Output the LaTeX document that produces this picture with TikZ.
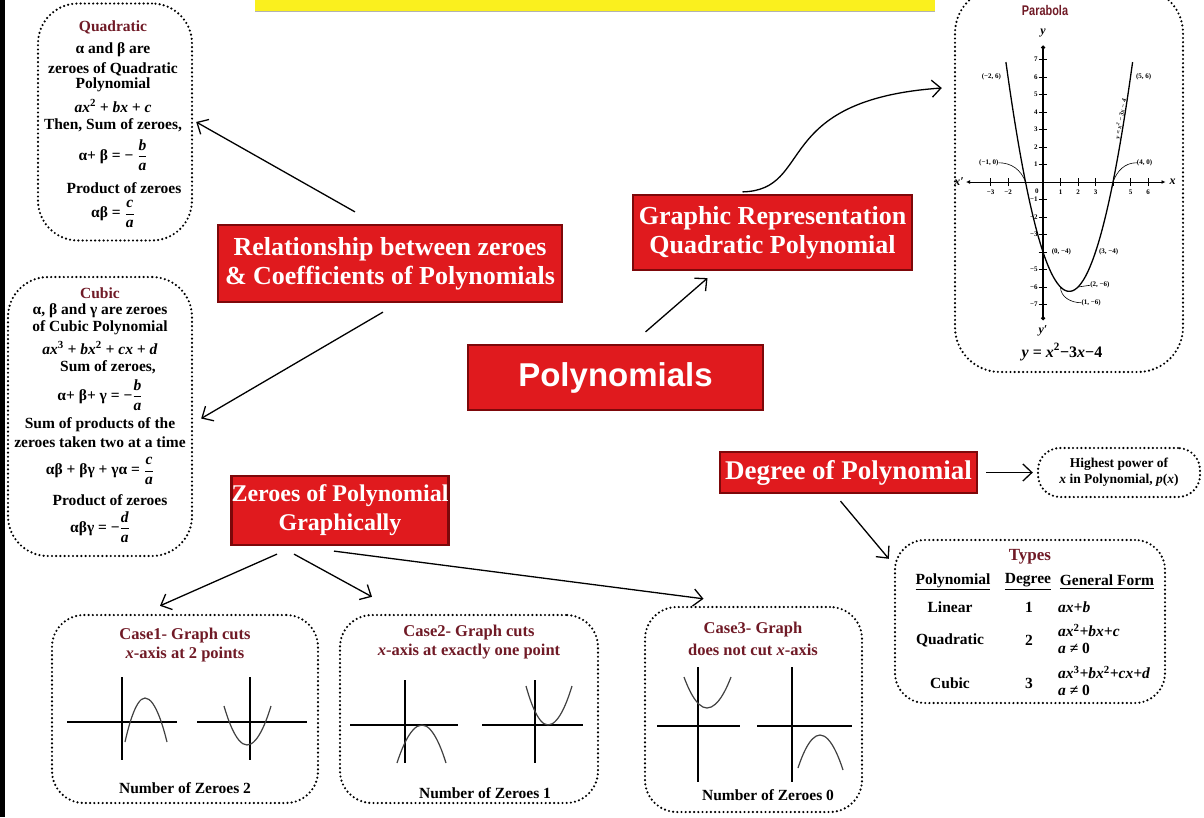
\documentclass[tikz,border=0pt]{standalone}
\usepackage{amsmath}
\usepackage{fontspec}
\setmainfont{Liberation Serif}
\newfontfamily\polyfont{Liberation Sans}
\newfontfamily\narrowfont[FakeStretch=0.78]{Liberation Sans}
\usetikzlibrary{arrows.meta,calc}
\definecolor{boxred}{RGB}{224,26,30}
\definecolor{boxdark}{RGB}{125,8,10}
\definecolor{maroon}{RGB}{112,26,38}
\definecolor{titleyellow}{RGB}{250,240,30}
\tikzset{
  redbox/.style={draw=boxdark, line width=2.2pt, fill=boxred, text=white, align=center, inner sep=0pt,
    font=\bfseries\fontsize{26}{29}\selectfont},
  dotbox/.style={draw=black, line width=2.4pt, dash pattern=on 0pt off 4.2pt, line cap=round, inner sep=0pt},
  arr/.style={draw=black, line width=1.3pt, -{Straight Barb[length=9pt,width=17pt,line width=1.3pt]}},
  txt/.style={inner sep=0pt, font=\bfseries\fontsize{15.5}{17}\selectfont},
  ttl/.style={txt, text=maroon},
  axis/.style={draw=black, line width=1.3pt},
  curve/.style={draw=black!75, line width=1.2pt},
  plab/.style={inner sep=0pt, font=\bfseries\fontsize{7}{8}\selectfont},
  alab/.style={inner sep=0pt, font=\bfseries\itshape\fontsize{12}{13}\selectfont},
}
\begin{document}
\begin{tikzpicture}[x=1pt,y=-1pt]
\useasboundingbox (0,0) rectangle (1204,817);
\fill[white] (0,0) rectangle (1204,817);
\fill[black] (0,0) rectangle (5,817);
\fill[titleyellow] (255,-2) rectangle (935,11);
\draw[black!30, line width=0.8pt] (255,11) -- (935,11);

% ---------- Quadratic box ----------
\node[dotbox, rounded corners=40pt, minimum width=154pt, minimum height=237pt] (quad) at (115,122) {};
\node[ttl] (q1) at (113,27) {Quadratic};
\node[txt] (q2) at (113,50) {α and β are};
\node[txt] (q3) at (113,69) {zeroes of Quadratic};
\node[txt] (q4) at (113,85) {Polynomial};
\node[txt] (q5) at (113,106) {\textit{ax}\textsuperscript{2}\textit{ + bx + c}};
\node[txt] (q6) at (113,125) {Then, Sum of zeroes,};
\node[txt] (q7) at (113,155) {α+ β = − $\dfrac{\textit{b}}{\textit{a}}$};
\node[txt] (q8) at (124,188) {Product of zeroes};
\node[txt] (q9) at (113,214) {αβ = $\dfrac{\textit{c}}{\textit{a}}$};

% ---------- Cubic box ----------
\node[dotbox, rounded corners=40pt, minimum width=184pt, minimum height=279pt] (cubic) at (100,416.5) {};
\node[ttl] (c1) at (100,293) {Cubic};
\node[txt] (c2) at (100,311) {α, β and γ are zeroes};
\node[txt] (c3) at (100,328) {of Cubic Polynomial};
\node[txt] (c4) at (100,348) {\textit{ax}\textsuperscript{3}\textit{ + bx}\textsuperscript{2}\textit{ + cx + d}};
\node[txt] (c5) at (108,367) {Sum of zeroes,};
\node[txt] (c6) at (100,395) {α+ β+ γ = −$\dfrac{\textit{b}}{\textit{a}}$};
\node[txt] (c7) at (100,425) {Sum of products of the};
\node[txt] (c8) at (100,442) {zeroes taken two at a time};
\node[txt] (c9) at (100,471) {αβ + βγ + γα = $\dfrac{\textit{c}}{\textit{a}}$};
\node[txt] (c10) at (110,500) {Product of zeroes};
\node[txt] (c11) at (100,527) {αβγ = −$\dfrac{\textit{d}}{\textit{a}}$};

% ---------- Red boxes ----------
\node[redbox, minimum width=344pt, minimum height=77pt] (rel) at (390,263.5)
  {Relationship between zeroes\\\& Coefficients of Polynomials};
\node[redbox, minimum width=279pt, minimum height=75pt] (graphic) at (772.5,232.5)
  {Graphic Representation\\Quadratic Polynomial};
\node[redbox, minimum width=295pt, minimum height=65pt, font=\polyfont\bfseries\fontsize{33}{36}\selectfont] (poly) at (615.5,377.5)
  {Polynomials};
\node[redbox, minimum width=206pt, minimum height=69pt, font=\bfseries\fontsize{24}{29}\selectfont] (zero) at (340,510.5)
  {Zeroes of Polynomial\\Graphically};
\node[redbox, minimum width=257pt, minimum height=41pt, font=\bfseries\fontsize{27}{29}\selectfont] (degree) at (848.5,472.5)
  {Degree of Polynomial};

% ---------- Highest power ----------
\node[dotbox, rounded corners=22pt, minimum width=162pt, minimum height=49pt, align=center,
  font=\bfseries\fontsize{13.5}{16}\selectfont] (high) at (1119,472.5)
  {Highest power of\\\textit{x} in Polynomial, \textit{p}(\textit{x})};

% ---------- Types ----------
\node[dotbox, rounded corners=30pt, minimum width=270pt, minimum height=163pt] (types) at (1030,621.5) {};
\node[ttl, font=\bfseries\fontsize{17}{19}\selectfont] (tT) at (1030,557) {Types};
\node[txt] (tH1) at (953,582) {\underline{Polynomial}};
\node[txt] (tH2) at (1028,582) {\underline{Degree}};
\node[txt] (tH3) at (1107,582) {\underline{General Form}};
\node[txt] (tL1) at (950,607) {Linear};
\node[txt] (tL2) at (1029,607) {1};
\node[txt, anchor=west] (tL3) at (1058,607) {\textit{ax+b}};
\node[txt] (tQ1) at (950,640) {Quadratic};
\node[txt] (tQ2) at (1029,640) {2};
\node[txt, anchor=west, align=left] (tQ3) at (1058,639) {\textit{ax}\textsuperscript{2}\textit{+bx+c}\\\textit{a} ≠ 0};
\node[txt] (tC1) at (950,683) {Cubic};
\node[txt] (tC2) at (1029,683) {3};
\node[txt, anchor=west, align=left] (tC3) at (1058,681) {\textit{ax}\textsuperscript{3}\textit{+bx}\textsuperscript{2}\textit{+cx+d}\\\textit{a} ≠ 0};

% ---------- Parabola ----------
\node[dotbox, rounded corners=45pt, minimum width=228pt, minimum height=384pt] (para) at (1069,180) {};
\node[inner sep=0pt, text=maroon, font=\narrowfont\bfseries\fontsize{14}{16}\selectfont] (pt) at (1045,10) {Parabola};
\node[txt, font=\bfseries\fontsize{16}{18}\selectfont] (pf) at (1062,352)
  {\textit{y} = \textit{x}\textsuperscript{2}−3\textit{x}−4};
\begin{scope}[shift={(1043,182)}, x=17.5pt, y=17.5pt]
  \draw[line width=1pt, {Latex[length=4pt,width=4pt]}-{Latex[length=4pt,width=4pt]}] (-4.4,0) -- (7.0,0);
  \draw[line width=1.2pt, {Circle[length=4pt]}-{Circle[length=4pt]}] (0,-7.9) -- (0,7.8);
  \foreach \i in {-3,-2,1,2,3,4,5,6} \draw[line width=1pt] (\i,-0.22) -- (\i,0.22);
  \foreach \j in {-7,-6,-5,-4,-3,-2,-1,1,2,3,4,5,6,7} \draw[line width=1pt] (-0.25,\j) -- (0.25,\j);
  \foreach \i/\l/\n in {-3/−3/a,-2/−2/b,1/1/c,2/2/d,3/3/e,5/5/f,6/6/g}
    \node[plab] (xt\n) at (\i,-0.6) {\l};
  \foreach \j/\l/\n in {7/7/a,6/6/b,5/5/c,4/4/d,3/3/e,2/2/f,1/1/g,-1/−1/h,-2/−2/i,-3/−3/j,-5/−5/k,-6/−6/l,-7/−7/m}
    \node[plab, anchor=east] (yt\n) at (-0.3,\j) {\l};
  \draw[line width=1.3pt, smooth, samples=60, domain=-2.12:5.12] plot (\x,{(\x)^2-3*(\x)-4});
  \node[plab] (pA) at (-2.95,6) {(−2, 6)};
  \node[plab] (pB) at (5.75,6) {(5, 6)};
  \node[plab] (pC) at (-3.1,1.1) {(−1, 0)};
  \node[plab] (pD) at (5.8,1.1) {(4, 0)};
  \node[plab] (pE) at (1.05,-4) {(0, −4)};
  \node[plab] (pF) at (3.75,-4) {(3, −4)};
  \node[plab] (pG) at (3.25,-5.9) {(2, −6)};
  \node[plab] (pH) at (2.75,-6.9) {(1, −6)};
  \node[plab] (p0) at (-0.35,-0.5) {0};
  \coordinate (zA) at (-1,0);
  \coordinate (zB) at (4,0);
  \coordinate (zG) at (2,-6);
  \coordinate (zH) at (1,-6);
  \draw[line width=0.6pt] (pC.east) to[out=0,in=110] (zA);
  \draw[line width=0.6pt] (pD.west) to[out=180,in=70] (zB);
  \draw[line width=0.6pt] (zG) -- (pG.west);
  \draw[line width=0.6pt] (zH) to[out=-90,in=180] (pH.west);
  \node[alab] (px1) at (-4.8,0) {x′};
  \node[alab] (px2) at (7.4,0) {x};
  \node[alab] (py1) at (0,8.5) {y};
  \node[alab] (py2) at (0,-8.5) {y′};
  \node[plab, rotate=80, font=\bfseries\itshape\fontsize{6.5}{7}\selectfont] (pl) at (4.45,3.6) {y = x\textsuperscript{2} − 3x − 4};
\end{scope}

% ---------- Case boxes ----------
\node[dotbox, rounded corners=32pt, minimum width=266pt, minimum height=188pt] (case1) at (185,709) {};
\node[ttl, font=\bfseries\fontsize{16.5}{18}\selectfont] (k1a) at (185,636) {Case1- Graph cuts};
\node[ttl, font=\bfseries\fontsize{16.5}{18}\selectfont] (k1b) at (185,655) {\textit{x}-axis at 2 points};
\node[txt] (k1c) at (185,788) {Number of Zeroes 2};
\draw[axis] (67,722) -- (177,722);
\draw[axis] (122,677) -- (122,760);
\draw[curve] (125,742) parabola bend (145,698) (167,742);
\draw[axis] (197,722) -- (307,722);
\draw[axis] (250,677) -- (250,760);
\draw[curve] (224,706) parabola bend (247,745) (271,706);

\node[dotbox, rounded corners=32pt, minimum width=258pt, minimum height=188pt] (case2) at (469,709) {};
\node[ttl, font=\bfseries\fontsize{16.5}{18}\selectfont] (k2a) at (469,633) {Case2- Graph cuts};
\node[ttl, font=\bfseries\fontsize{16.5}{18}\selectfont] (k2b) at (469,652) {\textit{x}-axis at exactly one point};
\node[txt] (k2c) at (485,793) {Number of Zeroes 1};
\draw[axis] (350,725) -- (458,725);
\draw[axis] (405,680) -- (405,763);
\draw[curve] (397,763) parabola bend (422,725) (446,763);
\draw[axis, line width=2pt] (482,725) -- (583,725);
\draw[axis, line width=2pt] (535,680) -- (535,763);
\draw[curve] (526,686) parabola bend (548,725) (572,686);

\node[dotbox, rounded corners=32pt, minimum width=217pt, minimum height=205pt] (case3) at (753.5,709.5) {};
\node[ttl, font=\bfseries\fontsize{16.5}{18}\selectfont] (k3a) at (753,630) {Case3- Graph};
\node[ttl, font=\bfseries\fontsize{16.5}{18}\selectfont] (k3b) at (753,650) {does not cut \textit{x}-axis};
\node[txt] (k3c) at (768,795) {Number of Zeroes 0};
\draw[axis, line width=2pt] (657,726) -- (740,726);
\draw[axis, line width=2pt] (698,667) -- (698,782);
\draw[curve] (684,677) parabola bend (707,708) (731,677);
\draw[axis, line width=2pt] (757,726) -- (852,726);
\draw[axis, line width=2pt] (792,667) -- (792,782);
\draw[curve] (798,768) parabola bend (820,735) (843,770);

% ---------- Connectors ----------
\draw[arr] ([xshift=-35pt,yshift=12pt]rel.north) -- ([xshift=3pt]quad.east);
\draw[arr] ([xshift=-7pt,yshift=-9pt]rel.south) -- ([xshift=8pt,yshift=-2pt]cubic.east);
\draw[arr] ([xshift=30pt,yshift=12pt]poly.north) -- ([xshift=-65pt,yshift=-7pt]graphic.south);
\draw[arr] ([xshift=-30pt,yshift=2pt]graphic.north) .. controls (815,190) and (770,100) .. ([xshift=-12pt,yshift=92pt]para.west);
\draw[arr] ([xshift=8pt]degree.east) -- ([xshift=-4pt]high.west);
\draw[arr] ([xshift=-8pt,yshift=-7pt]degree.south) -- ([xshift=-5pt,yshift=-20pt]types.north west);
\draw[arr] ([xshift=-63pt,yshift=-8pt]zero.south) -- ([xshift=-25pt,yshift=8pt]case1.north);
\draw[arr] ([xshift=-46pt,yshift=-8pt]zero.south) -- ([xshift=-97pt,yshift=17pt]case2.north);
\draw[arr] ([xshift=-6pt,yshift=-5pt]zero.south) -- ([xshift=-50pt,yshift=7pt]case3.north);
\end{tikzpicture}
\end{document}
